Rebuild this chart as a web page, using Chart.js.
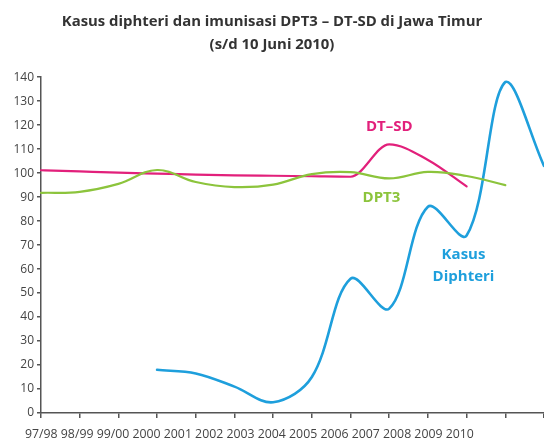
<!DOCTYPE html>
<html>
<head>
<meta charset="utf-8">
<script src="https://cdn.jsdelivr.net/npm/chart.js@4.4.1/dist/chart.umd.min.js"></script>
<style>
  html, body { margin: 0; padding: 0; background: #fff; }
  #wrap { width: 544px; height: 442px; position: relative; }
</style>
</head>
<body>
<div id="wrap"><canvas id="c" width="544" height="442"></canvas></div>
<script>
// ---- Data ----
const xCategories = ['97/98','98/99','99/00','2000','2001','2002','2003','2004','2005','2006','2007','2008','2009','2010'];
const kasusDiphteri = [null, null, null, 18, 16.5, 11, 4.5, 15, 56, 43.5, 86, 74, 138, 103];
const dtSd = [101.2, 100.7, 100.2, 99.8, 99.4, 99.1, 98.9, 98.7, 98.5, 112, 105.5, 94.5, null, null];
const dpt3 = [91.8, 92.2, 95.5, 101.3, 96.3, 94.2, 95.2, 99.6, 100.4, 97.8, 100.5, 98.8, 95, null];
const yTickMin = 0, yTickMax = 140, yTickStep = 10;
const titleLines = ['Kasus diphteri dan imunisasi DPT3 \u2013 DT-SD di Jawa Timur', '(s/d 10 Juni 2010)'];

// ---- Styles ----
const BLUE = '#1e9fdc', PINK = '#e2207b', GREEN = '#8cc43c';
const AXIS = '#555555', TEXT = '#444444';
const FONT = "'Open Sans', 'Liberation Sans', sans-serif";
const XLABEL_SIZE = 12.3;
const XLABEL_FONT = XLABEL_SIZE + "px " + FONT;

// The category names under the axis are set as one running line of text
// (as in the original), so their positions follow their own text widths.
const CHART_LEFT = 41, LABEL_ROW_START = 25;
const mctx = document.createElement('canvas').getContext('2d');
mctx.font = XLABEL_FONT;
const labelRowTicks = (() => {
  const sp = mctx.measureText(' ').width;
  let cur = LABEL_ROW_START;
  return xCategories.map(t => {
    const w = mctx.measureText(t).width;
    const v = cur + w / 2 - CHART_LEFT;
    cur += w + sp;
    return { value: v };
  });
})();

// in-chart text labels (anchored to data coordinates: category index, y value)
const seriesLabels = [
  { lines: ['DT\u2013SD'], x: 9.0, y: 119.3, color: PINK },
  { lines: ['DPT3'], x: 8.8, y: 89.6, color: GREEN },
  { lines: ['Kasus', 'Diphteri'], x: 10.92, y: 61.5, color: BLUE }
];

const labelPlugin = {
  id: 'seriesLabels',
  afterDatasetsDraw(chart) {
    const ctx = chart.ctx, xs = chart.scales.x, ys = chart.scales.y;
    ctx.save();
    ctx.font = "bold 15px " + FONT;
    ctx.textAlign = 'center';
    ctx.textBaseline = 'middle';
    seriesLabels.forEach(l => {
      const px = xs.getPixelForValue(l.x), py = ys.getPixelForValue(l.y);
      const lh = 22;
      const y0 = py - (l.lines.length - 1) * lh / 2;
      ctx.fillStyle = l.color;
      l.lines.forEach((t, i) => ctx.fillText(t, px, y0 + i * lh));
    });
    ctx.restore();
  }
};

const ds = (label, data, color, width, tension, mode) => ({
  label, data, borderColor: color, backgroundColor: color, borderWidth: width,
  pointRadius: 0, pointHoverRadius: 0, tension, cubicInterpolationMode: mode || 'default',
  spanGaps: false, fill: false, borderCapStyle: 'round', borderJoinStyle: 'round'
});

new Chart(document.getElementById('c'), {
  type: 'line',
  data: {
    labels: xCategories,
    datasets: [
      ds('DPT3', dpt3, GREEN, 2.2, 0.4),
      ds('DT-SD', dtSd, PINK, 2.2, 0.4, 'monotone'),
      ds('Kasus Diphteri', kasusDiphteri, BLUE, 2.6, 0.35)
    ]
  },
  plugins: [labelPlugin],
  options: {
    responsive: false,
    animation: false,
    devicePixelRatio: 1,
    layout: { padding: { left: 0, right: 0, top: 0, bottom: 0 } },
    plugins: {
      legend: { display: false },
      tooltip: { enabled: false },
      title: {
        display: true,
        text: titleLines,
        color: '#333333',
        font: { family: FONT, size: 14.9, weight: 'bold', lineHeight: 1.55 },
        padding: { top: 10, bottom: 21 }
      }
    },
    scales: {
      x: {
        type: 'category',
        position: 'bottom',
        offset: false,
        grid: { display: true, drawOnChartArea: false, drawTicks: true, tickLength: 5, color: AXIS, lineWidth: 1.5 },
        border: { display: true, color: AXIS, width: 1.5 },
        ticks: { display: false },
        afterFit(s) { s.height = 6; }
      },
      x2: {
        type: 'linear',
        position: 'bottom',
        min: 0,
        max: 544 - CHART_LEFT,
        grid: { display: false },
        border: { display: false },
        afterBuildTicks(s) { s.ticks = labelRowTicks.map(t => ({ value: t.value })); },
        ticks: {
          autoSkip: false, maxRotation: 0, minRotation: 0, padding: 0,
          color: TEXT, font: { family: FONT, size: XLABEL_SIZE },
          callback: (v, i) => xCategories[i]
        },
        afterFit(s) { s.height = 23; }
      },
      y: {
        min: yTickMin,
        max: yTickMax,
        grid: { display: true, drawOnChartArea: false, drawTicks: true, tickLength: 4, color: AXIS, lineWidth: 1.5 },
        border: { display: true, color: AXIS, width: 1.5 },
        ticks: { stepSize: yTickStep, color: TEXT, font: { family: FONT, size: 12 }, padding: 3 },
        afterFit(s) { s.width = 41; }
      }
    }
  }
});
</script>
</body>
</html>
